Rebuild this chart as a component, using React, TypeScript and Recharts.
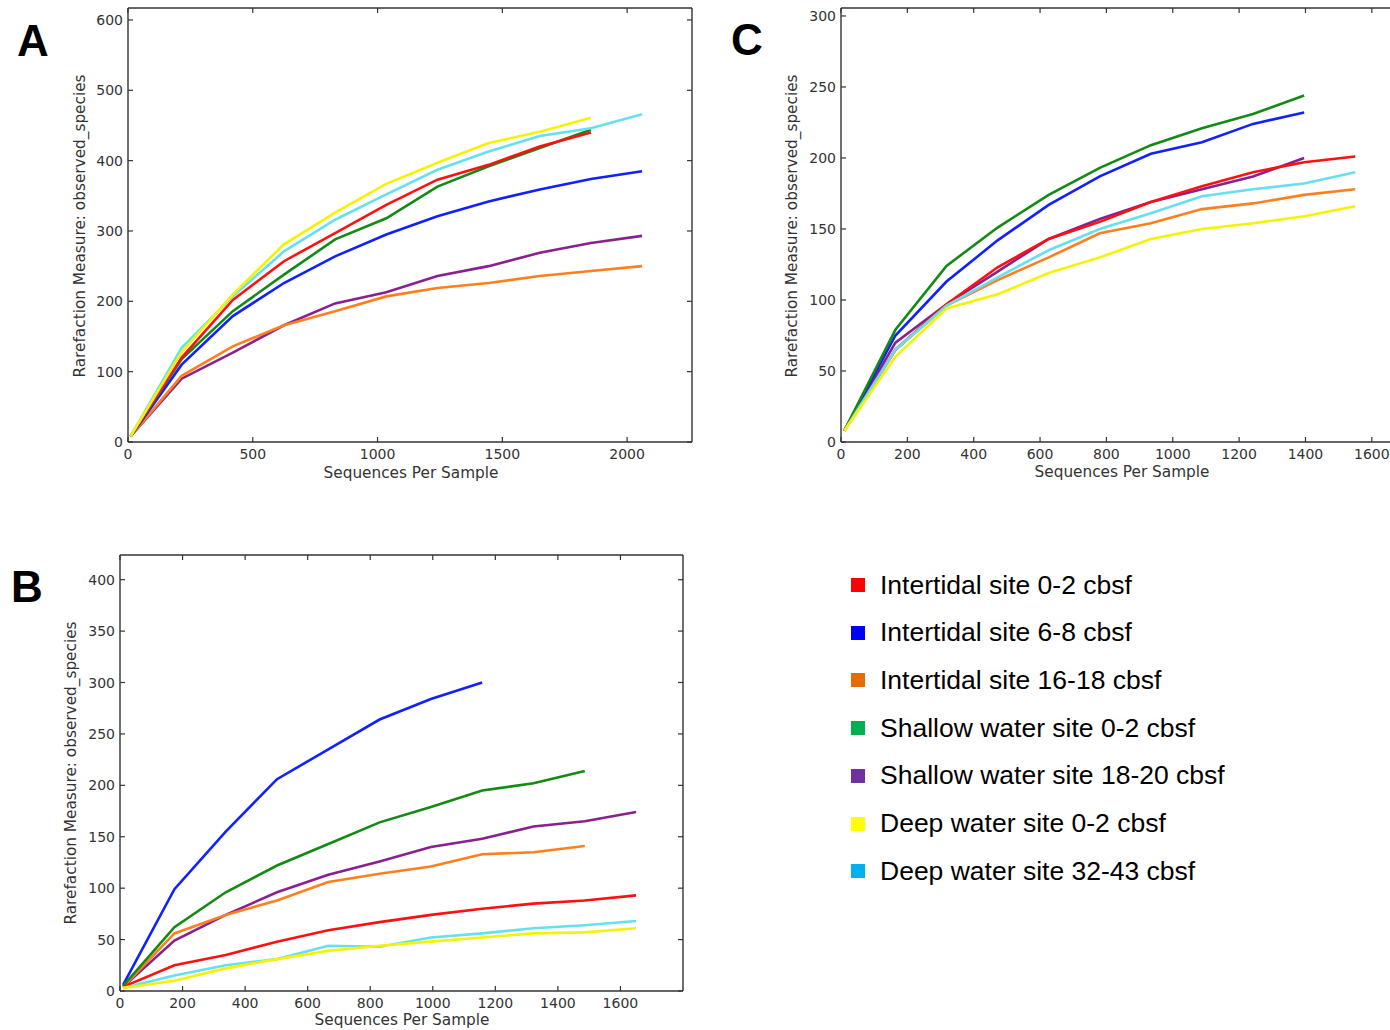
import { Line, LineChart, XAxis, YAxis } from "recharts";

// ---- panel A ----
const A_X = [10, 215, 420, 625, 830, 1035, 1240, 1445, 1650, 1855, 2060];
const A_RED = [8, 120, 202, 257, 297, 337, 373, 394, 420, 440];
const A_BLUE = [8, 110, 179, 226, 264, 295, 321, 342, 359, 374, 385];
const A_ORANGE = [8, 94, 136, 166, 186, 207, 219, 226, 236, 243, 250];
const A_GREEN = [8, 118, 186, 238, 288, 318, 363, 392, 418, 444];
const A_PURPLE = [8, 90, 127, 166, 197, 213, 236, 250, 269, 283, 293];
const A_YELLOW = [8, 128, 210, 281, 326, 367, 397, 425, 441, 461];
const A_CYAN = [8, 134, 207, 271, 316, 352, 387, 413, 435, 446, 466];
const A_XTICKS = [0, 500, 1000, 1500, 2000];
const A_YTICKS = [0, 100, 200, 300, 400, 500, 600];

// ---- panel C ----
const C_X = [10, 164, 318, 472, 626, 780, 934, 1088, 1242, 1396, 1550];
const C_RED = [8, 65, 97, 123, 143, 155, 169, 180, 190, 197, 201];
const C_BLUE = [8, 75, 113, 142, 167, 187, 203, 211, 224, 232];
const C_ORANGE = [8, 65, 96, 114, 130, 147, 154, 164, 168, 174, 178];
const C_GREEN = [8, 79, 124, 151, 174, 193, 209, 221, 231, 244];
const C_PURPLE = [8, 70, 97, 120, 143, 157, 169, 178, 187, 200];
const C_YELLOW = [8, 60, 94, 104, 119, 130, 143, 150, 154, 159, 166];
const C_CYAN = [8, 65, 96, 116, 135, 150, 161, 173, 178, 182, 190];
const C_XTICKS = [0, 200, 400, 600, 800, 1000, 1200, 1400, 1600];
const C_YTICKS = [0, 50, 100, 150, 200, 250, 300];

// ---- panel B ----
const B_X = [10, 174, 338, 502, 666, 830, 994, 1158, 1322, 1486, 1650];
const B_RED = [4, 25, 35, 48, 59, 67, 74, 80, 85, 88, 93];
const B_BLUE = [6, 99, 155, 206, 235, 264, 284, 300];
const B_ORANGE = [4, 56, 74, 88, 106, 114, 121, 133, 135, 141];
const B_GREEN = [5, 62, 96, 122, 143, 164, 179, 195, 202, 214];
const B_PURPLE = [4, 49, 74, 96, 113, 126, 140, 148, 160, 165, 174];
const B_YELLOW = [3, 10, 22, 31, 39, 44, 48, 52, 56, 57, 61];
const B_CYAN = [3, 15, 25, 31, 44, 43, 52, 56, 61, 64, 68];
const B_XTICKS = [0, 200, 400, 600, 800, 1000, 1200, 1400, 1600];
const B_YTICKS = [0, 50, 100, 150, 200, 250, 300, 350, 400];

const LEGEND_LABELS = [
  "Intertidal site 0-2 cbsf",
  "Intertidal site 6-8 cbsf",
  "Intertidal site 16-18 cbsf",
  "Shallow water site 0-2 cbsf",
  "Shallow water site 18-20 cbsf",
  "Deep water site 0-2 cbsf",
  "Deep water site 32-43 cbsf",
];
const LEGEND_COLORS = ["#ff0000", "#0000ff", "#e46c0a", "#00b050", "#7030a0", "#ffff00", "#00b0f0"];

// line colours as drawn in the plots (same order as the legend)
const LINE_COLORS = ["#ff1010", "#1020ff", "#ff7f1e", "#138a13", "#8a2090", "#f4f400", "#66e0f0"];

const AXIS = "#333";
const TICK_FONT = "'DejaVu Sans', sans-serif";

const pts = (xs: number[], ys: number[]) => ys.map((y, i) => ({ x: xs[i], y }));

function LeftTick(props: any) {
  const { x, y, payload } = props;
  return (
    <g>
      <line x1={x + 5} x2={x + 10} y1={y} y2={y} stroke={AXIS} strokeWidth={1.2} />
      <text x={x} y={y} dy={5} textAnchor="end" fontSize={14} fill={AXIS} fontFamily={TICK_FONT}>
        {payload.value}
      </text>
    </g>
  );
}

function BottomTick(props: any) {
  const { x, y, payload } = props;
  return (
    <g>
      <line x1={x} x2={x} y1={y} y2={y - 5} stroke={AXIS} strokeWidth={1.2} />
      <text x={x} y={y + 17} textAnchor="middle" fontSize={14} fill={AXIS} fontFamily={TICK_FONT}>
        {payload.value}
      </text>
    </g>
  );
}

// right axis has width 1, so the axis line sits at x - 0 (props.x is the axis line)
function RightTick(props: any) {
  const { x, y } = props;
  return <line x1={x} x2={x - 5} y1={y} y2={y} stroke={AXIS} strokeWidth={1.2} />;
}

function TopTick(props: any) {
  const { x, y } = props;
  return <line x1={x} x2={x} y1={y} y2={y + 5} stroke={AXIS} strokeWidth={1.2} />;
}

type PanelProps = {
  left: number;
  top: number;
  width: number;
  height: number;
  margin: { top: number; right: number; left: number; bottom: number };
  yAxisWidth: number;
  xAxisHeight: number;
  xDomain: [number, number];
  yDomain: [number, number];
  xTicks: number[];
  yTicks: number[];
  series: { x: number; y: number }[][];
  drawOrder: number[];
};

function Panel(p: PanelProps) {
  return (
    <div style={{ position: "absolute", left: p.left, top: p.top }}>
      <LineChart width={p.width} height={p.height} margin={p.margin}>
        <XAxis
          xAxisId="b"
          dataKey="x"
          type="number"
          domain={p.xDomain}
          ticks={p.xTicks}
          interval={0}
          allowDataOverflow
          height={p.xAxisHeight}
          tickSize={0}
          tickMargin={0}
          tickLine={false}
          tick={<BottomTick />}
          axisLine={{ stroke: AXIS, strokeWidth: 1.4 }}
        />
        <XAxis
          xAxisId="t"
          orientation="top"
          dataKey="x"
          type="number"
          domain={p.xDomain}
          ticks={p.xTicks}
          interval={0}
          allowDataOverflow
          height={1}
          tickSize={0}
          tickMargin={0}
          tickLine={false}
          tick={<TopTick />}
          axisLine={{ stroke: AXIS, strokeWidth: 1.4 }}
        />
        <YAxis
          yAxisId="l"
          type="number"
          domain={p.yDomain}
          ticks={p.yTicks}
          interval={0}
          allowDataOverflow
          width={p.yAxisWidth}
          tickSize={0}
          tickMargin={5}
          tickLine={false}
          tick={<LeftTick />}
          axisLine={{ stroke: AXIS, strokeWidth: 1.4 }}
        />
        <YAxis
          yAxisId="r"
          orientation="right"
          type="number"
          domain={p.yDomain}
          ticks={p.yTicks}
          interval={0}
          allowDataOverflow
          width={1}
          tickSize={0}
          tickMargin={0}
          tickLine={false}
          tick={<RightTick />}
          axisLine={{ stroke: AXIS, strokeWidth: 1.4 }}
        />
        {p.drawOrder.map((i) => (
          <Line
            key={i}
            xAxisId="b"
            yAxisId="l"
            data={p.series[i]}
            dataKey="y"
            type="linear"
            stroke={LINE_COLORS[i]}
            strokeWidth={2.6}
            dot={false}
            activeDot={false}
            isAnimationActive={false}
          />
        ))}
      </LineChart>
    </div>
  );
}

const textBase = {
  position: "absolute" as const,
  color: AXIS,
  fontFamily: TICK_FONT,
  fontSize: 15.3,
  whiteSpace: "nowrap" as const,
};

function XTitle({ cx, cy }: { cx: number; cy: number }) {
  return (
    <div style={{ ...textBase, left: cx, top: cy, transform: "translate(-50%, -50%)" }}>Sequences Per Sample</div>
  );
}

function YTitle({ cx, cy }: { cx: number; cy: number }) {
  return (
    <div style={{ ...textBase, left: cx, top: cy, transform: "translate(-50%, -50%) rotate(-90deg)" }}>
      Rarefaction Measure: observed_species
    </div>
  );
}

function Letter({ x, y, children }: { x: number; y: number; children: string }) {
  return (
    <div
      style={{
        position: "absolute",
        left: x,
        top: y,
        fontFamily: "'Liberation Sans', Arial, sans-serif",
        fontWeight: 700,
        fontSize: 44,
        lineHeight: "44px",
        color: "#000",
      }}
    >
      {children}
    </div>
  );
}

const ORDER = [4, 2, 1, 3, 0, 6, 5];

export default function App() {
  const seriesA = [A_RED, A_BLUE, A_ORANGE, A_GREEN, A_PURPLE, A_YELLOW, A_CYAN].map((ys) => pts(A_X, ys));
  const seriesC = [C_RED, C_BLUE, C_ORANGE, C_GREEN, C_PURPLE, C_YELLOW, C_CYAN].map((ys) => pts(C_X, ys));
  const seriesB = [B_RED, B_BLUE, B_ORANGE, B_GREEN, B_PURPLE, B_YELLOW, B_CYAN].map((ys) => pts(B_X, ys));

  return (
    <div
      style={{
        position: "absolute",
        left: 0,
        top: 0,
        width: 1390,
        height: 1030,
        overflow: "hidden",
        background: "#fff",
      }}
    >
      {/* A: plot box 128..692 x 8..442 */}
      <Panel
        left={0}
        top={0}
        width={700}
        height={490}
        margin={{ top: 7, right: 7, left: 0, bottom: 0 }}
        yAxisWidth={128}
        xAxisHeight={48}
        xDomain={[0, 2260]}
        yDomain={[0, 617]}
        xTicks={A_XTICKS}
        yTicks={A_YTICKS}
        series={seriesA}
        drawOrder={ORDER}
      />
      <XTitle cx={411} cy={473} />
      <YTitle cx={80} cy={226} />
      <Letter x={17} y={19}>A</Letter>

      {/* C: plot box 841..1405 x 8..442 (clipped at right edge) */}
      <Panel
        left={720}
        top={0}
        width={700}
        height={490}
        margin={{ top: 7, right: 14, left: 0, bottom: 0 }}
        yAxisWidth={121}
        xAxisHeight={48}
        xDomain={[0, 1700]}
        yDomain={[0, 305.6]}
        xTicks={C_XTICKS}
        yTicks={C_YTICKS}
        series={seriesC}
        drawOrder={ORDER}
      />
      <XTitle cx={1122} cy={472} />
      <YTitle cx={792} cy={226} />
      <Letter x={731} y={18}>C</Letter>

      {/* B: plot box 120..683 x 555..991 */}
      <Panel
        left={0}
        top={540}
        width={700}
        height={490}
        margin={{ top: 14, right: 16, left: 0, bottom: 0 }}
        yAxisWidth={120}
        xAxisHeight={39}
        xDomain={[0, 1800]}
        yDomain={[0, 424]}
        xTicks={B_XTICKS}
        yTicks={B_YTICKS}
        series={seriesB}
        drawOrder={ORDER}
      />
      <XTitle cx={402} cy={1020} />
      <YTitle cx={71} cy={773} />
      <Letter x={11} y={565}>B</Letter>

      {/* legend */}
      {LEGEND_LABELS.map((label, i) => (
        <div
          key={label}
          style={{
            position: "absolute",
            left: 851,
            top: 585 + i * 47.7 - 16,
            height: 32,
            display: "flex",
            alignItems: "center",
            fontFamily: "'Liberation Sans', Arial, sans-serif",
            fontSize: 26.5,
            color: "#000",
            whiteSpace: "nowrap",
          }}
        >
          <span
            style={{
              display: "inline-block",
              width: 14,
              height: 14,
              background: LEGEND_COLORS[i],
              marginRight: 15,
            }}
          />
          {label}
        </div>
      ))}
    </div>
  );
}
